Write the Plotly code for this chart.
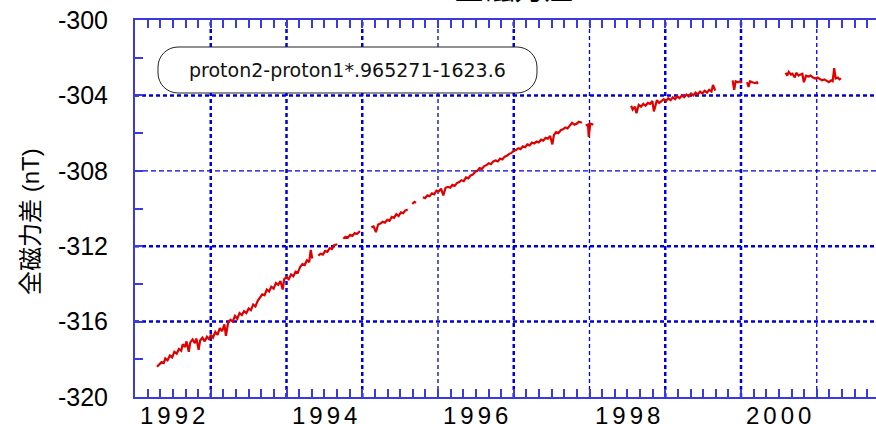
import plotly.graph_objects as go

# ---------------- data (decimal year, nT) ----------------
seg1_x = [1991.79, 1991.82, 1991.85, 1991.88, 1991.90, 1991.93, 1991.96, 1991.99, 1992.02, 1992.05,
          1992.08, 1992.11, 1992.13, 1992.16, 1992.18, 1992.21, 1992.23, 1992.26, 1992.29, 1992.31,
          1992.34, 1992.36, 1992.39, 1992.42, 1992.45, 1992.48, 1992.50, 1992.53, 1992.56, 1992.59,
          1992.62, 1992.65, 1992.68, 1992.70, 1992.73, 1992.76, 1992.79, 1992.82, 1992.85, 1992.88,
          1992.91, 1992.94, 1992.97, 1993.00, 1993.03, 1993.06, 1993.09, 1993.12, 1993.15, 1993.18,
          1993.21, 1993.24, 1993.27, 1993.30, 1993.33, 1993.36, 1993.39, 1993.42, 1993.45, 1993.47,
          1993.50, 1993.53, 1993.56, 1993.59, 1993.62, 1993.65, 1993.68, 1993.71, 1993.74, 1993.77,
          1993.80, 1993.82, 1993.84]
seg1_y = [-318.40, -318.30, -318.15, -318.20, -317.95, -318.05, -317.80, -317.90, -317.60, -317.70,
          -317.45, -317.55, -317.20, -317.35, -317.05, -317.60, -317.10, -316.95, -317.15, -316.90,
          -317.50, -317.00, -316.85, -317.05, -316.80, -316.95, -316.70, -316.85, -316.55, -316.70,
          -316.35, -316.50, -316.15, -316.75, -316.05, -315.90, -316.00, -315.70, -315.85, -315.55,
          -315.65, -315.45, -315.55, -315.30, -315.40, -315.10, -315.20, -314.90, -314.75, -314.55,
          -314.60, -314.30, -314.40, -314.15, -314.25, -313.95, -314.05, -313.85, -314.30, -313.75,
          -313.65, -313.75, -313.50, -313.60, -313.35, -313.40, -313.10, -312.95, -313.00, -312.75,
          -312.85, -312.20, -312.65]

seg2_x = [1993.92, 1993.95, 1993.98, 1994.01, 1994.04, 1994.07, 1994.10, 1994.13, 1994.17]
seg2_y = [-312.50, -312.40, -312.45, -312.25, -312.30, -312.10, -312.15, -311.95, -311.90]

seg3_x = [1994.25, 1994.28, 1994.31, 1994.34, 1994.37, 1994.40, 1994.43, 1994.47]
seg3_y = [-311.60, -311.50, -311.55, -311.40, -311.45, -311.30, -311.35, -311.20]

seg4_x = [1994.62, 1994.65, 1994.68, 1994.71, 1994.74, 1994.77, 1994.80, 1994.83, 1994.86, 1994.89,
          1994.92, 1994.95, 1994.98, 1995.01, 1995.04, 1995.07, 1995.10]
seg4_y = [-311.00, -310.95, -311.25, -310.85, -310.80, -310.70, -310.75, -310.60, -310.65, -310.45,
          -310.50, -310.30, -310.40, -310.20, -310.25, -310.10, -310.05]

seg5_x = [1995.16, 1995.19, 1995.21]
seg5_y = [-309.75, -309.65, -309.70]

seg6_x = [1995.30, 1995.33, 1995.36, 1995.39, 1995.42, 1995.45, 1995.48, 1995.51, 1995.54, 1995.57,
          1995.60, 1995.63, 1995.66, 1995.69, 1995.72, 1995.75, 1995.78, 1995.81, 1995.84, 1995.87,
          1995.90, 1995.93, 1995.96, 1995.99, 1996.02, 1996.05, 1996.08, 1996.11, 1996.14, 1996.17,
          1996.20, 1996.23, 1996.26, 1996.29, 1996.32, 1996.35, 1996.38, 1996.41, 1996.44, 1996.47,
          1996.50, 1996.53, 1996.56, 1996.59, 1996.62, 1996.65, 1996.68, 1996.71, 1996.74, 1996.77,
          1996.80, 1996.83, 1996.86, 1996.89, 1996.92, 1996.95, 1996.98, 1997.01, 1997.03, 1997.06,
          1997.09, 1997.12, 1997.15, 1997.18, 1997.21, 1997.24, 1997.27, 1997.30, 1997.33, 1997.36,
          1997.40]
seg6_y = [-309.40, -309.45, -309.30, -309.35, -309.20, -309.25, -309.05, -309.10, -308.95, -309.30,
          -308.90, -308.85, -308.90, -308.75, -308.80, -308.65, -308.60, -308.50, -308.55, -308.35,
          -308.40, -308.25, -308.20, -308.05, -308.00, -307.85, -307.90, -307.75, -307.70, -307.60,
          -307.65, -307.50, -307.45, -307.50, -307.35, -307.40, -307.25, -307.20, -307.10, -307.05,
          -306.95, -306.90, -306.80, -306.85, -306.70, -306.75, -306.60, -306.65, -306.50, -306.55,
          -306.45, -306.50, -306.35, -306.40, -306.25, -306.30, -306.15, -306.60, -306.10, -305.95,
          -306.00, -305.85, -305.80, -305.70, -305.75, -305.60, -305.45, -305.55, -305.50, -305.40,
          -305.45]

seg7_x = [1997.45, 1997.48, 1997.49, 1997.51, 1997.55]
seg7_y = [-305.60, -305.55, -306.20, -305.50, -305.55]

seg8_x = [1998.05, 1998.07, 1998.10, 1998.12, 1998.15, 1998.18, 1998.21, 1998.24, 1998.27, 1998.30,
          1998.33, 1998.35, 1998.39, 1998.42, 1998.45, 1998.48, 1998.51, 1998.54, 1998.57, 1998.60,
          1998.63, 1998.66, 1998.69, 1998.72, 1998.75, 1998.78, 1998.81, 1998.84, 1998.87, 1998.90,
          1998.93, 1998.96, 1998.99, 1999.02, 1999.05, 1999.08, 1999.11, 1999.13, 1999.16]
seg8_y = [-304.55, -304.75, -304.60, -304.95, -304.50, -304.60, -304.45, -304.55, -304.40, -304.45,
          -304.30, -304.85, -304.25, -304.40, -304.30, -304.20, -304.30, -304.15, -304.25, -304.10,
          -304.20, -304.05, -304.15, -304.00, -304.10, -303.95, -304.05, -303.90, -304.00, -303.85,
          -303.95, -303.80, -303.90, -303.75, -303.85, -303.70, -303.80, -303.45, -303.75]

seg9_x = [1999.39, 1999.41, 1999.43, 1999.46, 1999.49, 1999.51]
seg9_y = [-303.20, -303.70, -303.25, -303.30, -303.25, -303.35]

seg10_x = [1999.58, 1999.60, 1999.62, 1999.65, 1999.68, 1999.71, 1999.72]
seg10_y = [-303.30, -303.55, -303.25, -303.30, -303.35, -303.30, -303.40]

seg11_x = [2000.09, 2000.11, 2000.13, 2000.16, 2000.18, 2000.21, 2000.23, 2000.26, 2000.28, 2000.31,
           2000.33, 2000.36, 2000.39, 2000.42, 2000.45, 2000.48, 2000.51, 2000.54, 2000.57, 2000.60,
           2000.63, 2000.66, 2000.69, 2000.71, 2000.73, 2000.75, 2000.78, 2000.80, 2000.82]
seg11_y = [-302.80, -302.95, -302.75, -302.90, -302.85, -303.05, -302.80, -302.95, -302.90, -302.85,
           -303.30, -302.95, -303.00, -302.95, -303.05, -303.10, -303.05, -303.15, -303.20, -303.15,
           -303.25, -303.30, -303.20, -303.25, -302.55, -303.10, -303.05, -303.15, -303.10]

segments = [(seg1_x, seg1_y), (seg2_x, seg2_y), (seg3_x, seg3_y), (seg4_x, seg4_y),
            (seg5_x, seg5_y), (seg6_x, seg6_y), (seg7_x, seg7_y), (seg8_x, seg8_y),
            (seg9_x, seg9_y), (seg10_x, seg10_y), (seg11_x, seg11_y)]

x_tick_years = [1992, 1994, 1996, 1998, 2000]
y_tick_vals = [-320, -316, -312, -308, -304, -300]
grid_x_thick = [1992.5, 1993.5, 1994.5, 1996.5, 1998.5, 1999.5]
grid_x_thin = [1995.5, 1997.5, 2000.5]
grid_y_thick = [-304, -312, -316]
grid_y_thin = [-308]

legend_text = "proton2-proton1*.965271-1623.6"
title_text = "全磁力差"
ytitle_text = "全磁力差 (nT)"

# ---------------- layout geometry ----------------
W, H = 876, 424
L, R, T, B = 135, 876, 20, 397
X0, X1 = 1991.5, 1991.5 + (R - L) / 75.75
Y0, Y1 = -320, -300

def px2x(px):
    return (px - L) / (R - L)

def py2y(py):
    return (B - py) / (B - T)

BLUE = "#0000dd"
AXBLUE = "#3a3ae0"

xs, ys = [], []
for sx, sy in segments:
    xs += sx + [None]
    ys += sy + [None]

fig = go.Figure()
fig.add_trace(go.Scatter(x=xs, y=ys, mode="lines", connectgaps=False,
                         line=dict(color="#e00000", width=2.2), hoverinfo="skip"))

shapes = []
for gx in grid_x_thick:
    shapes.append(dict(type="line", xref="x", yref="paper", x0=gx, x1=gx, y0=0, y1=1,
                       line=dict(color=BLUE, width=2.5, dash="4px,3px"), layer="below"))
for gx in grid_x_thin:
    shapes.append(dict(type="line", xref="x", yref="paper", x0=gx, x1=gx, y0=0, y1=1,
                       line=dict(color=BLUE, width=1.3, dash="4px,3px"), layer="below"))
for gy in grid_y_thick:
    shapes.append(dict(type="line", xref="paper", yref="y", x0=0, x1=1, y0=gy, y1=gy,
                       line=dict(color=BLUE, width=2.5, dash="4px,3px"), layer="below"))
for gy in grid_y_thin:
    shapes.append(dict(type="line", xref="paper", yref="y", x0=0, x1=1, y0=gy, y1=gy,
                       line=dict(color=BLUE, width=1.3, dash="5px,3px"), layer="below"))

# rounded legend box
bx0, bx1, by0, by1, r = 158, 537, 47, 93, 20
k = 0.5523 * r
pts = [("M", [(bx0 + r, by0)]), ("L", [(bx1 - r, by0)]),
       ("C", [(bx1 - r + k, by0), (bx1, by0 + r - k), (bx1, by0 + r)]),
       ("L", [(bx1, by1 - r)]),
       ("C", [(bx1, by1 - r + k), (bx1 - r + k, by1), (bx1 - r, by1)]),
       ("L", [(bx0 + r, by1)]),
       ("C", [(bx0 + r - k, by1), (bx0, by1 - r + k), (bx0, by1 - r)]),
       ("L", [(bx0, by0 + r)]),
       ("C", [(bx0, by0 + r - k), (bx0 + r - k, by0), (bx0 + r, by0)])]
path = ""
for cmd, cps in pts:
    path += cmd + " ".join(f"{px2x(a):.5f},{py2y(b):.5f}" for a, b in cps) + " "
path += "Z"
shapes.append(dict(type="path", xref="paper", yref="paper", path=path,
                   fillcolor="white", line=dict(color="#222222", width=1), layer="above"))

annotations = [
    dict(text=legend_text, xref="paper", yref="paper", x=px2x((bx0 + bx1) / 2), y=py2y((by0 + by1) / 2),
         xanchor="center", yanchor="middle", showarrow=False,
         font=dict(family="DejaVu Sans", size=19, color="#111111")),
    dict(text=ytitle_text, xref="paper", yref="paper", x=px2x(31), y=py2y(222), textangle=-90,
         xanchor="center", yanchor="middle", showarrow=False,
         font=dict(family="Liberation Sans, Noto Sans CJK JP", size=24, color="black")),
    dict(text=title_text, xref="paper", yref="paper", x=px2x(514), y=py2y(10),
         xanchor="center", yanchor="bottom", showarrow=False,
         font=dict(family="Noto Sans CJK JP", size=30, color="black")),
]
# year labels along the bottom axis
for yr in x_tick_years:
    annotations.append(dict(text="\u2006".join(str(yr)), xref="x", yref="paper", x=yr, y=py2y(399.5),
                            xanchor="center", yanchor="top", showarrow=False,
                            font=dict(family="Liberation Sans", size=24, color="black")))

fig.update_layout(
    width=W, height=H, margin=dict(l=L, r=W - R, t=T, b=H - B, autoexpand=False),
    paper_bgcolor="white", plot_bgcolor="white", showlegend=False,
    shapes=shapes, annotations=annotations,
    xaxis=dict(range=[X0, X1], showgrid=False, zeroline=False, automargin=False,
               tickmode="array", tickvals=x_tick_years, showticklabels=False,
               ticks="inside", ticklen=8, tickwidth=1.5, tickcolor=AXBLUE,
               showline=True, linecolor=AXBLUE, linewidth=2, mirror="ticks",
               minor=dict(tickmode="linear", tick0=1991.5, dtick=1 / 6, ticks="inside",
                          ticklen=8, tickwidth=1.5, tickcolor=AXBLUE, showgrid=False)),
    yaxis=dict(range=[Y0, Y1], showgrid=False, zeroline=False, automargin=False,
               tickmode="array", tickvals=y_tick_vals, ticktext=[str(v) for v in y_tick_vals],
               ticks="inside", ticklen=8, tickwidth=1.5, tickcolor=AXBLUE,
               showline=True, linecolor=AXBLUE, linewidth=2, mirror=False,
               ticklabelstandoff=20,
               tickfont=dict(family="Liberation Sans", size=25, color="black"),
               minor=dict(tickmode="linear", tick0=-320, dtick=2, ticks="inside",
                          ticklen=8, tickwidth=1.5, tickcolor=AXBLUE, showgrid=False)),
)

# the page's default body margin would shift the figure; remove it
fig.write_html("out.html", config={"displayModeBar": False},
               post_script="document.body.style.margin='0';document.body.style.overflow='hidden';")
